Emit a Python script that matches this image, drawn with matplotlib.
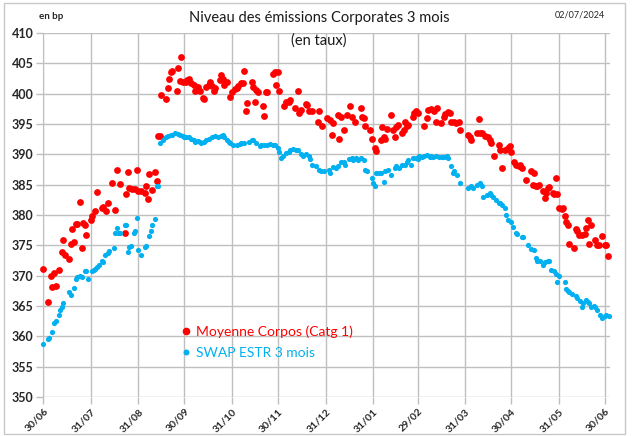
import matplotlib
matplotlib.use("Agg")
import matplotlib.pyplot as plt
import matplotlib.dates as mdates
from matplotlib.lines import Line2D
import pandas as pd

plt.rcParams['font.family'] = ['Lato', 'DejaVu Sans']

start = pd.Timestamp('2023-06-30')

# days after 30/06/2023
corpos_days = [0, 3, 5, 6, 7, 8, 10, 12, 13, 14, 17, 18, 19, 20, 21, 22, 24, 25, 26, 27,
               28, 31, 32, 34, 35, 38, 39, 41, 42, 45, 47, 48, 50, 53, 54, 55, 56, 58, 60, 61,
               62, 64, 66, 67, 68, 69, 71, 73, 74, 75, 76, 77, 80, 81, 82, 83, 84, 87, 88, 89,
               90, 91, 93, 94, 95, 96, 98, 99, 101, 102, 104, 105, 106, 108, 109, 110, 111, 112, 115, 116,
               117, 118, 120, 122, 123, 125, 126, 127, 129, 130, 131, 132, 133, 136, 137, 138, 139, 140, 143, 144,
               145, 146, 150, 151, 152, 153, 154, 157, 158, 160, 161, 164, 166, 167, 168, 171, 172, 173, 175, 179,
               180, 182, 185, 187, 188, 189, 192, 193, 194, 196, 198, 200, 201, 203, 207, 208, 209, 210, 213, 214,
               216, 217, 220, 221, 222, 223, 224, 227, 228, 229, 230, 231, 234, 235, 236, 237, 238, 241, 242, 243,
               244, 248, 250, 251, 253, 255, 256, 257, 259, 261, 262, 264, 265, 266, 268, 269, 271, 272, 277, 278,
               279, 283, 284, 285, 286, 288, 290, 291, 292, 294, 297, 298, 299, 301, 303, 304, 305, 307, 308, 310,
               311, 312, 315, 318, 319, 320, 321, 322, 323, 326, 327, 328, 329, 330, 332, 333, 334, 335, 336, 338,
               339, 340, 341, 342, 343, 346, 347, 348, 349, 351, 353, 354, 355, 356, 357, 360, 361, 362, 364, 366,
               367, 368]
corpos = [371.1, 365.7, 369.9, 368.2, 370.5, 368.3, 371.0, 373.9, 375.9, 373.4, 372.7, 375.2, 377.7, 375.6, 378.5, 378.6, 382.1, 374.5, 378.7, 378.4,
          376.7, 379.1, 379.9, 380.7, 383.8, 381.1, 381.4, 380.7, 381.9, 385.3, 380.8, 387.4, 385.1, 377.1, 383.4, 387.1, 384.4, 384.3, 384.3, 387.5,
          384.0, 383.9, 383.7, 384.7, 382.6, 386.7, 384.1, 387.1, 385.6, 393.1, 393.1, 399.7, 399.1, 401.0, 402.4, 403.5, 403.8, 400.5, 404.3, 402.1,
          406.0, 402.0, 402.0, 402.3, 402.5, 401.7, 401.4, 400.5, 401.1, 400.5, 399.3, 399.1, 401.1, 401.4, 401.9, 401.3, 400.5, 401.0, 402.2, 403.1,
          402.5, 401.5, 401.9, 399.5, 400.3, 400.7, 400.9, 401.3, 401.8, 401.7, 403.8, 397.1, 398.5, 402.0, 401.1, 398.7, 400.6, 400.2, 398.0, 396.3,
          400.2, 400.3, 403.2, 403.5, 401.5, 403.5, 400.5, 397.9, 398.7, 398.7, 399.0, 397.6, 400.5, 396.8, 397.3, 398.3, 398.1, 397.1, 397.1, 395.4,
          397.1, 394.6, 396.0, 395.6, 393.2, 395.1, 396.5, 392.6, 396.2, 394.0, 396.5, 397.9, 396.2, 395.4, 397.6, 396.2, 396.0, 394.7, 394.0, 392.6,
          391.0, 390.6, 392.4, 394.5, 392.9, 392.6, 394.1, 396.5, 394.0, 392.9, 394.5, 394.8, 393.5, 394.0, 395.4, 394.6, 394.8, 396.2, 396.8, 397.2,
          396.8, 394.6, 396.0, 397.3, 397.4, 397.2, 395.4, 397.6, 395.2, 396.2, 396.7, 397.0, 396.8, 395.4, 395.4, 395.1, 395.3, 394.0, 393.2, 392.9,
          392.4, 393.6, 395.8, 393.6, 393.6, 393.0, 392.8, 392.4, 391.8, 389.7, 391.5, 390.7, 387.7, 390.7, 391.0, 391.3, 390.4, 388.8, 388.3, 388.1,
          388.3, 387.7, 385.7, 387.2, 385.0, 386.9, 384.7, 384.8, 385.0, 383.9, 382.8, 383.6, 384.4, 384.6, 383.6, 383.5, 386.1, 383.5, 381.1, 381.0,
          381.1, 379.9, 378.9, 378.4, 375.3, 374.5, 377.7, 377.3, 376.7, 376.7, 376.8, 377.8, 379.1, 375.2, 378.3, 375.8, 375.1, 375.0, 376.5, 375.1,
          375.1, 373.3]

swap_days = [0, 3, 4, 6, 7, 8, 10, 11, 12, 13, 17, 18, 20, 21, 22, 24, 25, 27, 28, 29,
             32, 33, 34, 35, 36, 38, 39, 40, 42, 43, 46, 47, 48, 49, 50, 53, 54, 55, 56, 57,
             59, 60, 61, 62, 64, 66, 67, 69, 70, 71, 73, 74, 75, 76, 78, 80, 81, 83, 84, 86,
             88, 89, 91, 92, 93, 95, 96, 98, 99, 101, 102, 103, 105, 106, 108, 110, 112, 114, 116, 117,
             118, 120, 121, 122, 124, 126, 128, 129, 131, 134, 136, 137, 139, 141, 142, 144, 146, 148, 150, 151,
             153, 154, 155, 156, 158, 160, 161, 163, 165, 166, 168, 169, 171, 173, 174, 175, 178, 180, 181, 183,
             186, 187, 189, 191, 192, 194, 196, 197, 199, 201, 202, 204, 205, 207, 209, 210, 211, 214, 215, 216,
             217, 219, 220, 222, 223, 225, 227, 229, 230, 232, 234, 236, 237, 238, 240, 241, 243, 244, 245, 247,
             248, 250, 252, 253, 254, 256, 258, 260, 261, 263, 264, 266, 267, 268, 270, 272, 277, 279, 280, 283,
             285, 286, 287, 289, 291, 292, 293, 295, 297, 298, 299, 301, 302, 303, 305, 306, 308, 309, 312, 313,
             316, 318, 320, 321, 322, 324, 326, 327, 329, 330, 331, 333, 334, 335, 336, 340, 341, 342, 343, 345,
             347, 348, 350, 351, 352, 354, 355, 356, 357, 359, 360, 361, 363, 364, 366, 367, 369]
swap = [358.8, 359.6, 359.8, 360.7, 362.2, 362.6, 363.6, 364.3, 364.9, 365.5, 367.3, 366.8, 367.9, 369.5, 369.8, 369.9, 369.8, 370.7, 370.8, 369.5,
        370.8, 371.0, 371.1, 371.5, 371.8, 372.4, 372.3, 373.4, 373.7, 374.0, 374.6, 377.1, 377.9, 377.1, 377.0, 378.3, 378.4, 373.9, 374.8, 374.9,
        377.0, 377.4, 379.5, 374.2, 373.4, 374.8, 374.9, 376.6, 377.4, 378.4, 379.3, 384.8, 384.8, 391.9, 392.4, 392.8, 393.0, 393.2, 393.2, 393.5,
        393.4, 393.2, 393.0, 392.9, 392.8, 392.8, 392.6, 392.3, 392.1, 392.2, 392.1, 391.9, 392.1, 392.4, 392.6, 392.9, 393.0, 392.9, 393.0, 393.2,
        392.8, 392.4, 392.1, 391.8, 391.5, 391.5, 391.7, 391.8, 391.9, 392.1, 392.4, 392.3, 391.8, 391.4, 391.5, 391.5, 391.5, 391.7, 391.6, 391.5,
        391.0, 390.4, 389.4, 389.7, 390.2, 390.4, 390.7, 390.9, 390.7, 390.7, 390.0, 389.7, 390.1, 389.7, 389.2, 388.3, 388.1, 387.5, 387.2, 387.2,
        387.4, 386.9, 387.9, 387.7, 388.0, 388.7, 388.8, 388.3, 389.2, 389.4, 389.1, 389.4, 389.1, 389.4, 389.1, 387.4, 387.2, 386.1, 385.3, 384.7,
        387.0, 386.9, 387.0, 385.5, 387.2, 387.4, 386.6, 387.7, 388.0, 387.7, 388.3, 388.3, 388.8, 389.1, 388.3, 389.4, 389.4, 389.2, 389.7, 389.6,
        389.7, 389.9, 389.6, 389.7, 389.5, 389.7, 389.5, 389.6, 389.6, 389.7, 389.4, 388.0, 387.0, 387.2, 386.6, 385.2, 384.4, 384.7, 384.4, 385.0,
        385.2, 384.7, 383.0, 383.3, 383.6, 383.3, 383.0, 382.5, 382.0, 381.9, 381.7, 381.1, 380.0, 379.2, 378.8, 378.1, 377.1, 376.8, 376.4, 376.3,
        375.0, 374.4, 374.2, 372.9, 372.5, 372.4, 371.8, 372.2, 372.4, 372.5, 370.9, 370.7, 370.3, 368.9, 370.0, 368.9, 367.8, 367.4, 367.3, 367.0,
        366.7, 366.3, 365.8, 364.8, 365.5, 366.0, 365.7, 365.5, 364.9, 365.0, 364.8, 364.3, 363.6, 363.0, 363.3, 363.5, 363.4]

tick_dates = ['2023-06-30', '2023-07-31', '2023-08-31', '2023-09-30', '2023-10-31', '2023-11-30',
              '2023-12-31', '2024-01-31', '2024-02-29', '2024-03-31', '2024-04-30', '2024-05-31', '2024-06-30']

red = '#ff0000'
blue = '#00b0f0'

x_corpos = start + pd.to_timedelta(corpos_days, unit='D')
x_swap = start + pd.to_timedelta(swap_days, unit='D')

fig = plt.figure(figsize=(6.33, 4.36), dpi=100)
ax = fig.add_axes([0.0684, 0.0894, 0.8953, 0.8349])

ax.scatter(x_corpos, corpos, s=24, color=red, linewidths=0, zorder=3, clip_on=False)
ax.scatter(x_swap, swap, s=14, color=blue, linewidths=0, zorder=3, clip_on=False)

ax.set_ylim(350, 410)
ax.set_yticks(range(350, 411, 5))
ax.set_xlim(start, start + pd.Timedelta(days=369.5))
ax.set_xticks(pd.to_datetime(tick_dates))
ax.xaxis.set_major_formatter(mdates.DateFormatter('%d/%m'))

ax.grid(True, color='#bfbfbf', linewidth=1.0)
ax.set_axisbelow(True)
for side in ['top', 'right', 'bottom']:
    ax.spines[side].set_visible(False)
ax.spines['left'].set_color('#bfbfbf')
ax.tick_params(axis='both', length=5, width=1.0, color='#bfbfbf', pad=2)
for lab in ax.get_yticklabels():
    lab.set_fontsize(9)
    lab.set_fontweight('bold')
    lab.set_color('#262626')
for lab in ax.get_xticklabels():
    lab.set_fontsize(7.5)
    lab.set_fontweight('bold')
    lab.set_color('#262626')
    lab.set_rotation(45)
    lab.set_ha('right')
    lab.set_rotation_mode('anchor')

fig.text(0.505, 0.958, 'Niveau des émissions Corporates 3 mois', ha='center', va='center',
         fontsize=10.5, color='#1a1a1a')
fig.text(0.503, 0.908, '(en taux)', ha='center', va='center', fontsize=10.5, color='#1a1a1a')
fig.text(0.062, 0.962, 'en bp', ha='left', va='center', fontsize=7, fontweight='bold', color='#262626')
fig.text(0.955, 0.966, '02/07/2024', ha='right', va='center', fontsize=6.5, color='#262626')

handles = [Line2D([], [], marker='o', linestyle='none', markersize=5.5, markerfacecolor=red, markeredgewidth=0),
           Line2D([], [], marker='o', linestyle='none', markersize=4.3, markerfacecolor=blue, markeredgewidth=0)]
leg = ax.legend(handles, ['Moyenne Corpos (Catg 1)', 'SWAP ESTR 3 mois'], loc='upper left',
                bbox_to_anchor=(0.267, 0.282), bbox_transform=fig.transFigure, frameon=False,
                fontsize=10, handlelength=0.6, handletextpad=0.45, labelspacing=0.65)
for txt, c in zip(leg.get_texts(), [red, blue]):
    txt.set_color(c)

# light frame around the picture
fig.patches.append(plt.Rectangle((0.006, 0.005), 0.982, 0.988, transform=fig.transFigure,
                                 fill=False, edgecolor='#c8c8c8', linewidth=1.0))

fig.savefig('out.png', dpi=100)
